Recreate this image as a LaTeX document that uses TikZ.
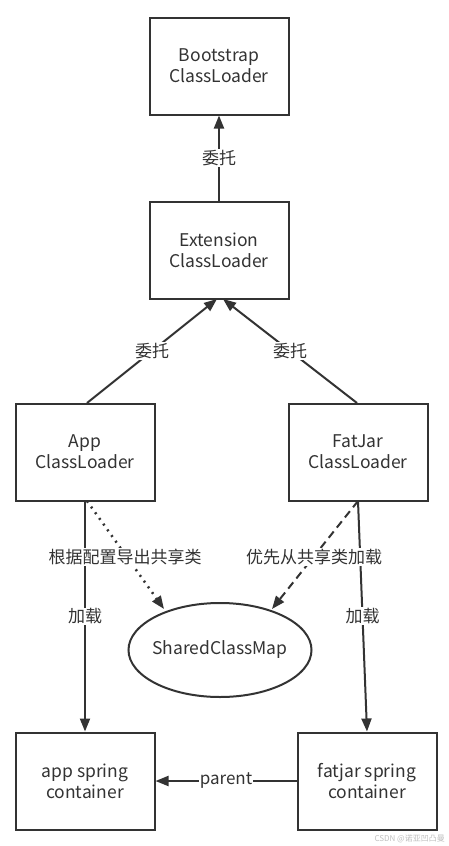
\documentclass[tikz,border=0pt]{standalone}
\usepackage{fontspec}
\setmainfont{Noto Sans CJK SC}
\usetikzlibrary{arrows.meta,shapes.geometric}
\definecolor{ink}{HTML}{333333}
\tikzset{
  box/.style={draw=ink, line width=2pt, minimum width=139pt, minimum height=97pt, align=center, text=ink, font=\fontsize{17.5}{21}\selectfont},
  conn/.style={draw=ink, line width=2pt, -{Triangle[length=13pt,width=10pt]}},
  lbl/.style={fill=white, text=ink, inner sep=1pt, font=\fontsize{17}{20}\selectfont},
}
\begin{document}
\begin{tikzpicture}[x=1pt,y=-1pt]
\useasboundingbox[fill=white] (0,0) rectangle (448,846);
\node[box] (boot) at (219,66) {Bootstrap\\ClassLoader};
\node[box] (ext) at (219,250) {Extension\\ClassLoader};
\node[box] (app) at (85,452) {App\\ClassLoader};
\node[box] (fat) at (358,452) {FatJar\\ClassLoader};
\node[draw=ink, line width=2pt, ellipse, inner xsep=-16pt, inner ysep=0pt, minimum width=183pt, minimum height=94pt, text=ink, font=\fontsize{17.5}{21}\selectfont] (map) at (220,650) {SharedClassMap};
\node[box] (aspr) at (85,781) {app spring\\container};
\node[box] (fspr) at (367,781) {fatjar spring\\container};
\coordinate (extA) at (217,299);
\coordinate (extB) at (223,299);
\coordinate (appT) at (87,403);
\coordinate (fatT) at (357,403);
\coordinate (appB) at (87,501);
\coordinate (fatB) at (358,501);
\coordinate (mapL) at (164,609);
\coordinate (mapR) at (272,609);

\draw[conn] (ext.north) -- node[lbl, pos=0.5] {委托} (boot.south);
\draw[conn] (appT) -- node[lbl, pos=0.5] {委托} (extA);
\draw[conn] (fatT) -- node[lbl, pos=0.5] {委托} (extB);
\draw[conn] (app.south) -- node[lbl, pos=0.5] {加载} (aspr.north);
\draw[conn] (fatB) -- node[lbl, pos=0.5] {加载} (fspr.north);
\draw[conn, line width=2.5pt, dash pattern=on 2pt off 5pt] (appB) -- (mapL);
\draw[conn, dash pattern=on 8pt off 5pt] (fatB) -- (mapR);
\node[lbl] (l1) at (125,557) {根据配置导出共享类};
\node[lbl] (l2) at (314,557) {优先从共享类加载};
\draw[conn] (fspr.west) -- node[lbl, pos=0.5] {parent} (aspr.east);
\node[text=gray!50, font=\fontsize{8}{9}\selectfont, anchor=south east, inner sep=1pt] (wm) at (446,844) {CSDN @诺亚凹凸曼};
\end{tikzpicture}
\end{document}
